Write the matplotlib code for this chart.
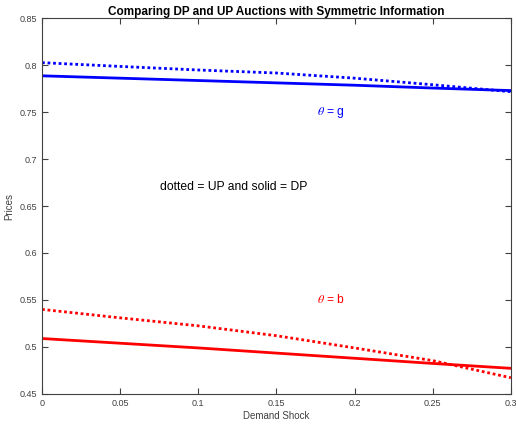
import numpy as np
import matplotlib
matplotlib.use("Agg")
import matplotlib.pyplot as plt

plt.rcParams["font.family"] = ["Liberation Sans", "DejaVu Sans"]
plt.rcParams["mathtext.fontset"] = "stix"

# demand shock grid and prices
shock = [0.0, 0.05, 0.10, 0.15, 0.20, 0.25, 0.30]
dp_good = [0.7885, 0.7860, 0.7835, 0.7810, 0.7785, 0.7755, 0.7728]
up_good = [0.8025, 0.7985, 0.7947, 0.7915, 0.7860, 0.7790, 0.7716]
dp_bad = [0.5090, 0.5040, 0.4990, 0.4935, 0.4880, 0.4825, 0.4773]
up_bad = [0.5400, 0.5310, 0.5225, 0.5120, 0.4990, 0.4855, 0.4673]

fig = plt.figure(figsize=(5.16, 4.24), dpi=100)
ax = fig.add_axes([0.0814, 0.0708, 0.9086, 0.8867])

ax.plot(shock, dp_good, color="#0000ff", lw=2)
ax.plot(shock, up_good, color="#0000ff", lw=2, ls=(0, (1, 1)))
ax.plot(shock, dp_bad, color="#ff0000", lw=2)
ax.plot(shock, up_bad, color="#ff0000", lw=2, ls=(0, (1, 1)))

ax.text(0.185, 0.749, r"$\theta$ = g", color="#0000ff", fontsize=8.7, ha="center", va="center")
ax.text(0.185, 0.550, r"$\theta$ = b", color="#ff0000", fontsize=8.7, ha="center", va="center")
ax.text(0.0755, 0.670, "dotted = UP and solid = DP", fontsize=8.7, ha="left", va="center")

ax.set_xlim(0, 0.3)
ax.set_ylim(0.45, 0.85)
ax.set_xticks([0, 0.05, 0.1, 0.15, 0.2, 0.25, 0.3])
ax.set_xticklabels(["0", "0.05", "0.1", "0.15", "0.2", "0.25", "0.3"])
ax.set_yticks([0.45, 0.5, 0.55, 0.6, 0.65, 0.7, 0.75, 0.8, 0.85])
ax.set_yticklabels(["0.45", "0.5", "0.55", "0.6", "0.65", "0.7", "0.75", "0.8", "0.85"])
ax.tick_params(direction="in", top=True, right=True, labelsize=6.5, length=4,
               color="#404040", labelcolor="#404040", width=0.8)
for s in ax.spines.values():
    s.set_color("#404040")
    s.set_linewidth(0.8)

ax.set_xlabel("Demand Shock", fontsize=7, color="#404040", labelpad=2)
ax.set_ylabel("Prices", fontsize=7, color="#404040", labelpad=4)
ax.set_title("Comparing DP and UP Auctions with Symmetric Information",
             fontsize=8.5, fontweight="bold", pad=2)

fig.savefig("out.png", dpi=100)
